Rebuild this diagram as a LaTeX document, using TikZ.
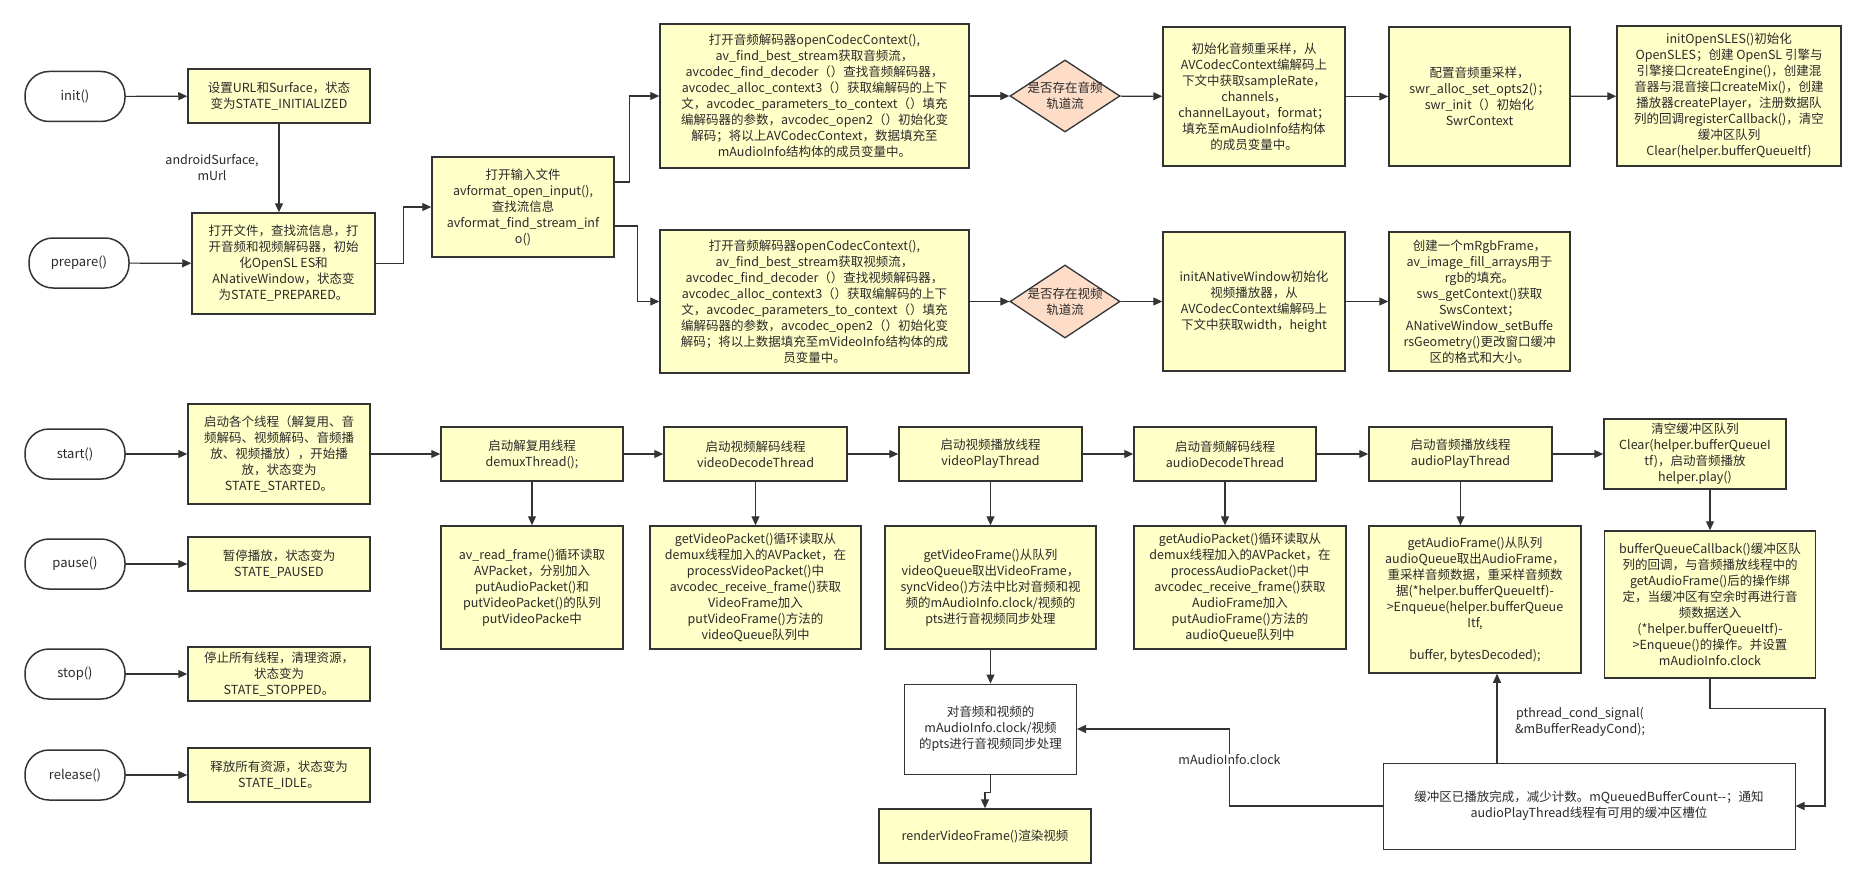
\documentclass[tikz,border=0pt]{standalone}
\usepackage{fontspec}
\setmainfont{Noto Sans CJK SC}
\usetikzlibrary{arrows.meta,shapes.geometric}
\definecolor{ybg}{HTML}{FFFFC8}
\definecolor{dfill}{HTML}{FDDCC8}
\definecolor{ln}{HTML}{333333}
\definecolor{tx}{HTML}{2A2A2A}
\tikzset{
  base/.style={draw=ln, align=center, font=\fontsize{12.5}{16}\selectfont, inner sep=1pt, text=tx},
  ybox/.style={base, fill=ybg, line width=1.5pt},
  wbox/.style={base, fill=white, line width=1pt},
  term/.style={base, fill=white, rounded corners=24pt, line width=1.5pt, minimum width=100pt, minimum height=50pt, font=\fontsize{13}{16}\selectfont},
  dia/.style={draw=ln, diamond, fill=dfill, line width=1.3pt, inner sep=0pt},
  arr/.style={draw=ln, line width=1.2pt, -{Triangle[length=9pt,width=8pt]}},
  lab/.style={font=\fontsize{12.5}{16}\selectfont, align=center, text=tx, inner sep=1pt}
}
\begin{document}
\begin{tikzpicture}[x=1pt,y=-1pt]
\useasboundingbox (0,0) rectangle (1866,888);
\fill[white] (0,0) rectangle (1866,888);

% ---------- left terminals ----------
\node[term] (tinit) at (75,96.5) {init()};
\node[term] (tprep) at (79,263) {prepare()};
\node[term] (tstart) at (75,454) {start()};
\node[term] (tpause) at (75,564) {pause()};
\node[term] (tstop) at (75,674) {stop()};
\node[term] (trel) at (75,775) {release()};

% ---------- state boxes ----------
\node[ybox, minimum width=182pt, minimum height=54pt] (bset) at (279,96) {设置URL和Surface，状态\\变为STATE\_INITIALIZED};
\node[ybox, minimum width=183pt, minimum height=101pt] (bprep) at (283.5,263.5) {打开文件，查找流信息，打\\开音频和视频解码器，初始\\化OpenSL ES和\\ANativeWindow，状态变\\为STATE\_PREPARED。};
\node[ybox, minimum width=182pt, minimum height=100pt] (bstart) at (279,454) {启动各个线程（解复用、音\\频解码、视频解码、音频播\\放、视频播放），开始播\\放，状态变为\\STATE\_STARTED。};
\node[ybox, minimum width=182pt, minimum height=54pt] (bpause) at (279,564) {暂停播放，状态变为\\STATE\_PAUSED};
\node[ybox, minimum width=182pt, minimum height=54pt] (bstop) at (279,674) {停止所有线程，清理资源，\\状态变为\\STATE\_STOPPED。};
\node[ybox, minimum width=182pt, minimum height=54pt] (brel) at (279,775) {释放所有资源，状态变为\\STATE\_IDLE。};

% ---------- prepare chain ----------
\node[ybox, minimum width=182pt, minimum height=100pt] (binput) at (523,207) {打开输入文件\\avformat\_open\_input(),\\查找流信息\\avformat\_find\_stream\_inf\\o()};
\node[ybox, minimum width=309pt, minimum height=144pt] (bacodec) at (814.5,96) {打开音频解码器openCodecContext(),\\av\_find\_best\_stream获取音频流，\\avcodec\_find\_decoder（）查找音频解码器，\\avcodec\_alloc\_context3（）获取编解码的上下\\文，avcodec\_parameters\_to\_context（）填充\\编解码器的参数，avcodec\_open2（）初始化变\\解码；将以上AVCodecContext，数据填充至\\mAudioInfo结构体的成员变量中。};
\node[ybox, minimum width=309pt, minimum height=143pt] (bvcodec) at (814.5,301.5) {打开音频解码器openCodecContext(),\\av\_find\_best\_stream获取视频流，\\avcodec\_find\_decoder（）查找视频解码器，\\avcodec\_alloc\_context3（）获取编解码的上下\\文，avcodec\_parameters\_to\_context（）填充\\编解码器的参数，avcodec\_open2（）初始化变\\解码；将以上数据填充至mVideoInfo结构体的成\\员变量中。};
\node[dia, minimum width=110pt, minimum height=72pt] (daudio) at (1065,96) {};
\node[lab] at (daudio) {是否存在音频\\轨道流};
\node[dia, minimum width=110pt, minimum height=73pt] (dvideo) at (1065,301.5) {};
\node[lab] at (dvideo) {是否存在视频\\轨道流};
\node[ybox, minimum width=182pt, minimum height=139pt] (bres) at (1254,96.5) {初始化音频重采样，从\\AVCodecContext编解码上\\下文中获取sampleRate，\\channels，\\channelLayout，format；\\填充至mAudioInfo结构体\\的成员变量中。};
\node[ybox, minimum width=181pt, minimum height=139pt] (bconf) at (1479.5,96.5) {配置音频重采样，\\swr\_alloc\_set\_opts2()；\\swr\_init（）初始化\\SwrContext};
\node[ybox, minimum width=224pt, minimum height=140pt] (bsles) at (1729,96) {initOpenSLES()初始化\\OpenSLES；创建 OpenSL 引擎与\\引擎接口createEngine()，创建混\\音器与混音接口createMix()，创建\\播放器createPlayer，注册数据队\\列的回调registerCallback()，清空\\缓冲区队列\\Clear(helper.bufferQueueItf)};
\node[ybox, minimum width=182pt, minimum height=139pt] (banw) at (1254,301.5) {initANativeWindow初始化\\视频播放器，从\\AVCodecContext编解码上\\下文中获取width，height};
\node[ybox, minimum width=181pt, minimum height=139pt] (brgb) at (1479.5,301.5) {创建一个mRgbFrame，\\av\_image\_fill\_arrays用于\\rgb的填充。\\sws\_getContext()获取\\SwsContext；\\ANativeWindow\_setBuffe\\rsGeometry()更改窗口缓冲\\区的格式和大小。};

% ---------- start chain ----------
\node[ybox, minimum width=182pt, minimum height=54pt] (demux) at (532,454) {启动解复用线程\\demuxThread();};
\node[ybox, minimum width=182pt, minimum height=123pt] (demuxd) at (532,587.5) {av\_read\_frame()循环读取\\AVPacket，分别加入\\putAudioPacket()和\\putVideoPacket()的队列\\putVideoPacke中};
\node[ybox, minimum width=183pt, minimum height=54pt] (vdec) at (755.5,454) {启动视频解码线程\\videoDecodeThread};
\node[ybox, minimum width=211pt, minimum height=123pt] (vdecd) at (755.5,587.5) {getVideoPacket()循环读取从\\demux线程加入的AVPacket，在\\processVideoPacket()中\\avcodec\_receive\_frame()获取\\VideoFrame加入\\putVideoFrame()方法的\\videoQueue队列中};
\node[ybox, minimum width=183pt, minimum height=54pt] (vplay) at (990.5,454) {启动视频播放线程\\videoPlayThread};
\node[ybox, minimum width=211pt, minimum height=123pt] (vplayd) at (990.5,587.5) {getVideoFrame()从队列\\videoQueue取出VideoFrame，\\syncVideo()方法中比对音频和视\\频的mAudioInfo.clock/视频的\\pts进行音视频同步处理};
\node[ybox, minimum width=182pt, minimum height=54pt] (adec) at (1225,454) {启动音频解码线程\\audioDecodeThread};
\node[ybox, minimum width=212pt, minimum height=123pt] (adecd) at (1240,587.5) {getAudioPacket()循环读取从\\demux线程加入的AVPacket，在\\processAudioPacket()中\\avcodec\_receive\_frame()获取\\AudioFrame加入\\putAudioFrame()方法的\\audioQueue队列中};
\node[ybox, minimum width=183pt, minimum height=54pt] (aplay) at (1460.5,454) {启动音频播放线程\\audioPlayThread};
\node[ybox, minimum width=212pt, minimum height=147pt] (aplayd) at (1475,599.5) {getAudioFrame()从队列\\audioQueue取出AudioFrame，\\重采样音频数据，重采样音频数\\据(*helper.bufferQueueItf)-\\>Enqueue(helper.bufferQueue\\Itf,\\[16pt]buffer, bytesDecoded);};
\node[ybox, minimum width=182pt, minimum height=70pt] (clear) at (1695,454) {清空缓冲区队列\\Clear(helper.bufferQueueI\\tf)，启动音频播放\\helper.play()};
\node[ybox, minimum width=211pt, minimum height=147pt] (cback) at (1710,604.5) {bufferQueueCallback()缓冲区队\\列的回调，与音频播放线程中的\\getAudioFrame()后的操作绑\\定，当缓冲区有空余时再进行音\\频数据送入\\(*helper.bufferQueueItf)-\\>Enqueue()的操作。并设置\\mAudioInfo.clock};
\node[wbox, minimum width=172pt, minimum height=90pt] (sync) at (990.5,729) {对音频和视频的\\mAudioInfo.clock/视频\\的pts进行音视频同步处理};
\node[ybox, minimum width=212pt, minimum height=54pt] (render) at (985,836) {renderVideoFrame()渲染视频};
\node[wbox, minimum width=412pt, minimum height=86pt] (buf) at (1589,806) {缓冲区已播放完成，减少计数。mQueuedBufferCount-{}-；通知\\audioPlayThread线程有可用的缓冲区槽位};

% ---------- connectors: top ----------
\draw[arr] (tinit) -- (bset);
\draw[arr] (tprep) -- (bprep);
\draw[arr] (bset.south) -- (bset.south |- bprep.north);
\node[lab] at (212,168) {androidSurface,\\mUrl};
\draw[arr] (bprep.east) -- ++(28,0) |- (binput.west);
\draw[arr] ([yshift=25pt]binput.east) -- ++(15,0) |- (bacodec.west);
\draw[arr] ([yshift=-19pt]binput.east) -- ++(23,0) |- (bvcodec.west);
\draw[arr] (bacodec) -- (daudio);
\draw[arr] (daudio) -- (bres);
\draw[arr] (bres) -- (bconf);
\draw[arr] (bconf) -- (bsles);
\draw[arr] (bvcodec) -- (dvideo);
\draw[arr] (dvideo) -- (banw);
\draw[arr] (banw) -- (brgb);

% ---------- connectors: left column ----------
\draw[arr] (tstart) -- (bstart);
\draw[arr] (tpause) -- (bpause);
\draw[arr] (tstop) -- (bstop);
\draw[arr] (trel) -- (brel);

% ---------- connectors: thread chain ----------
\draw[arr] (bstart) -- (demux);
\draw[arr] (demux) -- (vdec);
\draw[arr] (vdec) -- (vplay);
\draw[arr] (vplay) -- (adec);
\draw[arr] (adec) -- (aplay);
\draw[arr] (aplay) -- (clear);
\draw[arr] (demux.south) -- (demuxd.north);
\draw[arr] (vdec.south) -- (vdecd.north);
\draw[arr] (vplay.south) -- (vplayd.north);
\draw[arr] (adec.south) -- (adec.south |- adecd.north);
\draw[arr] (aplay.south) -- (aplay.south |- aplayd.north);
\draw[arr] (clear.south -| cback.north) -- (cback.north);
\draw[arr] (vplayd.south) -- (sync.north);
\draw[arr] (sync.south) -- ++(0,18) -| (render.north);

% ---------- connectors: feedback ----------
\coordinate (bufup) at ([xshift=-92pt]buf.north);
\draw[arr] (bufup) -- (bufup |- aplayd.south);
\node[lab] at (1580,722) {pthread\_cond\_signal(\\\&mBufferReadyCond);};
\draw[arr] (buf.west) -- ++(-153,0) |- node[pos=0.3, fill=white, lab] {mAudioInfo.clock} (sync.east);
\draw[arr] (cback.south) |- ++(115,30) |- (buf.east);
\end{tikzpicture}
\end{document}
